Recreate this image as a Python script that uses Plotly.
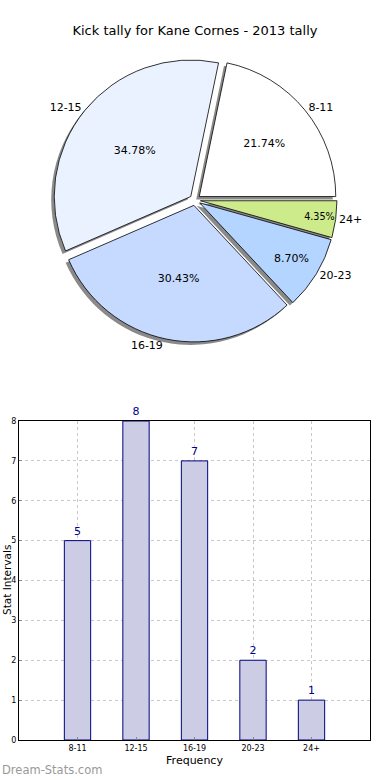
import plotly.graph_objects as go

categories = ["8-11", "12-15", "16-19", "20-23", "24+"]
counts = [5, 8, 7, 2, 1]
pie_colors = ["#ffffff", "#ebf2ff", "#c6d9ff", "#b3d5ff", "#cdeb8b"]
y_ticks = [0, 1, 2, 3, 4, 5, 6, 7, 8]

FONT = "DejaVu Sans"
W, H = 390, 780

# pie geometry (pixels)
cx, cy, half = 195, 200, 142
dom_x = [(cx - half) / W, (cx + half) / W]
dom_y = [1 - (cy + half) / H, 1 - (cy - half) / H]
sdx, sdy = -3 / W, -3 / H

fig = go.Figure()

# slices are laid clockwise from 3 o'clock in reverse order -> counterclockwise order from east
common = dict(labels=categories[::-1], values=counts[::-1], sort=False, direction="clockwise",
              rotation=90, pull=[0.04] * 5, showlegend=False)

# shadow pie
fig.add_trace(go.Pie(
    **common, textinfo="none", hoverinfo="skip",
    marker=dict(colors=["#8a8a8a"] * 5, line=dict(color="#8a8a8a", width=0)),
    domain=dict(x=[dom_x[0] + sdx, dom_x[1] + sdx], y=[dom_y[0] + sdy, dom_y[1] + sdy]),
))
# main pie with inside percentages
fig.add_trace(go.Pie(
    **common, texttemplate="%{percent:.2%}",
    textposition="inside", insidetextorientation="horizontal",
    textfont=dict(family=FONT, size=11, color="black"),
    marker=dict(colors=pie_colors[::-1], line=dict(color="black", width=0.8)),
    domain=dict(x=dom_x, y=dom_y),
))
# transparent pie carrying outside labels
fig.add_trace(go.Pie(
    **common, textinfo="label", textposition="outside",
    textfont=dict(family=FONT, size=11, color="black"),
    marker=dict(colors=["rgba(0,0,0,0)"] * 5, line=dict(width=0)),
    domain=dict(x=dom_x, y=dom_y), hoverinfo="skip",
))

# bar chart
fig.add_trace(go.Bar(
    x=categories, y=counts, width=0.45, text=counts, textposition="outside",
    cliponaxis=False,
    textfont=dict(family=FONT, size=11, color="#00008b"),
    marker=dict(color="#ccccE5", line=dict(color="#000080", width=1)),
    xaxis="x", yaxis="y", showlegend=False,
))

fig.update_layout(
    width=W, height=H, margin=dict(l=0, r=0, t=0, b=0, autoexpand=False),
    paper_bgcolor="white", plot_bgcolor="white",
    font=dict(family=FONT, color="black"),
    title=dict(text="Kick tally for Kane Cornes - 2013 tally", x=0.5, xanchor="center",
               y=1 - 30 / H, yanchor="middle", font=dict(size=13, family=FONT)),
    xaxis=dict(domain=[19 / W, 370 / W], anchor="y", range=[-1, 5], type="category",
               automargin=False,
               showline=True, mirror=True, linecolor="black", linewidth=1,
               showgrid=True, gridcolor="#c8c8c8", griddash="dot", gridwidth=1,
               ticks="inside", ticklen=3, tickcolor="#888", tickfont=dict(size=8),
               title=dict(text="Frequency", font=dict(size=11), standoff=4)),
    yaxis=dict(domain=[1 - 740 / H, 1 - 421 / H], anchor="x", range=[0, 8],
               automargin=False,
               tickvals=y_ticks, showline=True, mirror=True, linecolor="black", linewidth=1,
               showgrid=True, gridcolor="#c8c8c8", griddash="dot", gridwidth=1,
               zeroline=False, ticks="inside", ticklen=3, tickcolor="#888",
               tickfont=dict(size=8)),
    annotations=[
        dict(text="Stat Intervals", x=-1 / W, y=1 - 580 / H, xref="paper", yref="paper",
             textangle=-90, showarrow=False, font=dict(size=10.5), xanchor="left", yanchor="middle"),
        dict(text="Dream-Stats.com", x=0, y=1 - 770 / H, xref="paper", yref="paper",
             xanchor="left", yanchor="middle", showarrow=False,
             font=dict(size=11.5, color="#999999", family=FONT)),
    ],
)

fig.write_html("out.html", config={"displayModeBar": False},
               post_script="document.body.style.margin='0';")
